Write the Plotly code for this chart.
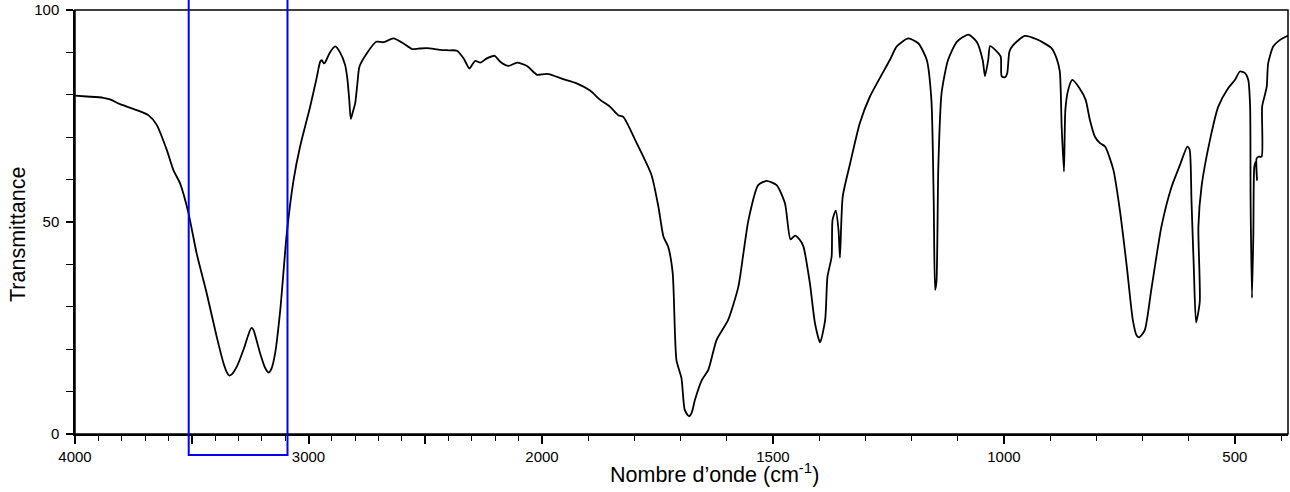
import plotly.graph_objects as go

# IR spectrum (wavenumber in cm-1, transmittance in %)
wavenumber = [
    4000, 3950, 3879, 3850, 3807, 3736, 3686, 3650, 3607, 3579, 3550, 3514, 3479, 3436,
    3393, 3364, 3350, 3340, 3330, 3307, 3279, 3260, 3245, 3236, 3222, 3207, 3185, 3171,
    3158, 3143, 3121, 3093, 3064, 3036, 2993, 2965, 2950, 2943, 2935, 2929, 2910, 2886,
    2865, 2843, 2833, 2825, 2819, 2810, 2800, 2790, 2782, 2750, 2710, 2679, 2636, 2593,
    2557, 2530, 2493, 2436, 2400, 2364, 2336, 2311, 2300, 2286, 2264, 2236, 2203, 2179,
    2143, 2107, 2064, 2021, 1986, 1954, 1925, 1896, 1874, 1853, 1835, 1824, 1795, 1763,
    1748, 1737, 1727, 1717, 1709, 1698, 1691, 1682, 1676, 1669, 1654, 1640, 1622, 1597,
    1575, 1564, 1553, 1532, 1514, 1492, 1474, 1462, 1452, 1442, 1434, 1420, 1409, 1398,
    1387, 1382, 1373, 1371, 1364, 1358, 1355, 1349, 1333, 1312, 1290, 1247, 1232, 1207,
    1185, 1167, 1157, 1152, 1149, 1146, 1142, 1135, 1121, 1102, 1077, 1059, 1046, 1041,
    1034, 1030, 1019, 1007, 1005, 998, 993, 988, 980, 955, 929, 897, 886, 879,
    875, 870, 867, 861, 852, 836, 823, 814, 803, 792, 781, 763, 749, 734,
    721, 713, 707, 695, 681, 659, 637, 619, 603, 598, 594, 589, 584, 576,
    579, 572, 554, 536, 515, 500, 489, 478, 471, 467, 466, 463, 460, 458,
    455, 452, 453, 448, 442, 441, 435, 431, 428, 417, 403, 390, 385,
]
transmittance = [
    79.8, 79.6, 79.3, 78.9, 77.8, 76.4, 75.2, 72.9, 67.0, 62.3, 59.1, 52.1, 42.6, 33.2,
    22.9, 16.7, 14.6, 13.8, 14.0, 15.9, 19.8, 23.0, 25.0, 24.6, 22.0, 19.0, 15.5, 14.5,
    15.5, 19.0, 29.2, 47.3, 59.9, 67.8, 77.2, 84.0, 87.8, 88.2, 87.4, 87.6, 89.8, 91.4,
    90.0, 87.0, 83.5, 78.5, 74.3, 76.0, 78.0, 83.0, 86.6, 89.8, 92.5, 92.4, 93.3, 92.1,
    90.8, 90.9, 91.0, 90.6, 90.5, 90.4, 88.6, 86.2, 87.0, 88.0, 87.6, 88.6, 89.2, 87.8,
    86.8, 87.6, 86.8, 84.7, 84.9, 83.7, 82.7, 81.0, 78.8, 77.2, 75.2, 74.8, 68.6, 61.1,
    53.6, 46.5, 44.2, 37.9, 17.5, 13.1, 5.7, 4.2, 5.0, 8.0, 12.7, 15.1, 22.2, 26.9,
    34.7, 42.6, 50.5, 58.7, 59.7, 58.7, 54.4, 45.9, 46.8, 45.8, 44.2, 35.5, 26.1, 21.6,
    26.9, 37.1, 41.8, 50.5, 52.7, 48.0, 41.6, 56.0, 63.8, 73.3, 79.6, 88.2, 91.4, 93.3,
    92.1, 88.2, 78.8, 55.0, 34.0, 36.0, 63.1, 80.4, 88.2, 92.5, 94.2, 92.5, 88.2, 84.4,
    88.2, 91.5, 90.6, 89.0, 84.4, 84.1, 85.0, 90.2, 91.7, 93.9, 93.1, 91.0, 88.6, 85.5,
    72.5, 61.9, 76.4, 81.1, 83.5, 81.5, 78.8, 74.1, 70.1, 68.6, 67.8, 62.3, 52.8, 39.5,
    26.9, 23.3, 22.8, 24.5, 34.0, 48.9, 58.3, 63.4, 67.8, 67.1, 55.2, 39.5, 26.3, 31.2,
    48.9, 58.5, 69.3, 77.2, 81.5, 83.5, 85.5, 85.1, 83.5, 77.2, 55.2, 32.1, 47.3, 63.0,
    64.2, 59.9, 65.0, 65.4, 65.4, 77.2, 80.0, 81.9, 87.4, 91.4, 92.9, 93.7, 93.9,
]

# Axis layout: the spectrum scale changes at 2000 cm-1
range_high = [4000, 2000]
range_low = [2000, 385]
labels_high = [4000, 3000, 2000]
mid_ticks_high = [3500, 2500]
labels_low = [1500, 1000, 500]
y_labels = [0, 50, 100]
highlight_range = [3513, 3090]   # blue box around the O-H / N-H band

FONT = "Liberation Sans, Arial, sans-serif"
split = 467 / 1213

fig = go.Figure()
for xa in ["x", "x2"]:
    fig.add_trace(go.Scatter(
        x=wavenumber, y=transmittance, mode="lines",
        line=dict(color="black", width=1.8, shape="spline", smoothing=0.6),
        xaxis=xa, yaxis="y", showlegend=False, hoverinfo="skip",
    ))

common_x = dict(
    anchor="y", showgrid=False, zeroline=False, showline=True, automargin=False,
    linecolor="black", linewidth=1.5,
    ticks="outside", ticklen=8, tickwidth=1.5, tickcolor="black",
    tickfont=dict(family=FONT, size=15, color="black"),
    minor=dict(tickmode="linear", tick0=0, dtick=100, ticks="outside",
               ticklen=5, tickwidth=1.2, tickcolor="black", showgrid=False),
)

hv = labels_high + mid_ticks_high
fig.update_layout(
    template="none",
    width=1290, height=492,
    margin=dict(l=75, r=2, t=10, b=58, autoexpand=False),
    paper_bgcolor="white", plot_bgcolor="white",
    xaxis=dict(domain=[0, split], range=range_high, tickmode="array",
               tickvals=hv, ticktext=[str(v) if v in labels_high else "" for v in hv],
               **common_x),
    xaxis2=dict(domain=[split, 1], range=range_low, tickmode="array",
                tickvals=labels_low, ticktext=[str(v) for v in labels_low],
                **common_x),
    yaxis=dict(range=[0, 100], tickmode="array", tickvals=y_labels,
               ticktext=[str(v) for v in y_labels], automargin=False,
               showgrid=False, zeroline=False, showline=True,
               linecolor="black", linewidth=1.5,
               ticks="outside", ticklen=7, tickwidth=1.5, tickcolor="black",
               tickfont=dict(family=FONT, size=15, color="black"),
               ticklabelstandoff=4,
               minor=dict(tickmode="linear", tick0=0, dtick=10, ticks="outside",
                          ticklen=7, tickwidth=1.2, tickcolor="black", showgrid=False)),
    shapes=[
        dict(type="rect", xref="paper", yref="paper", x0=0, x1=1, y0=0, y1=1,
             line=dict(color="black", width=1.5), fillcolor="rgba(0,0,0,0)", layer="above"),
        dict(type="rect", xref="x", yref="paper",
             x0=highlight_range[0], x1=highlight_range[1], y0=-0.0495, y1=1.05,
             line=dict(color="#0000ff", width=2), fillcolor="rgba(0,0,0,0)", layer="above"),
    ],
    annotations=[
        dict(text="Nombre d\u2019onde (cm<sup>-1</sup>)", xref="paper", yref="paper",
             x=0.5276, y=-0.092, xanchor="center", yanchor="middle", showarrow=False,
             font=dict(family=FONT, size=21.5, color="black")),
        dict(text="Transmittance", xref="paper", yref="paper", textangle=-90,
             x=-0.0474, y=0.4705, xanchor="center", yanchor="middle", showarrow=False,
             font=dict(family=FONT, size=21.5, color="black")),
    ],
)

fig.write_html("out.html")
